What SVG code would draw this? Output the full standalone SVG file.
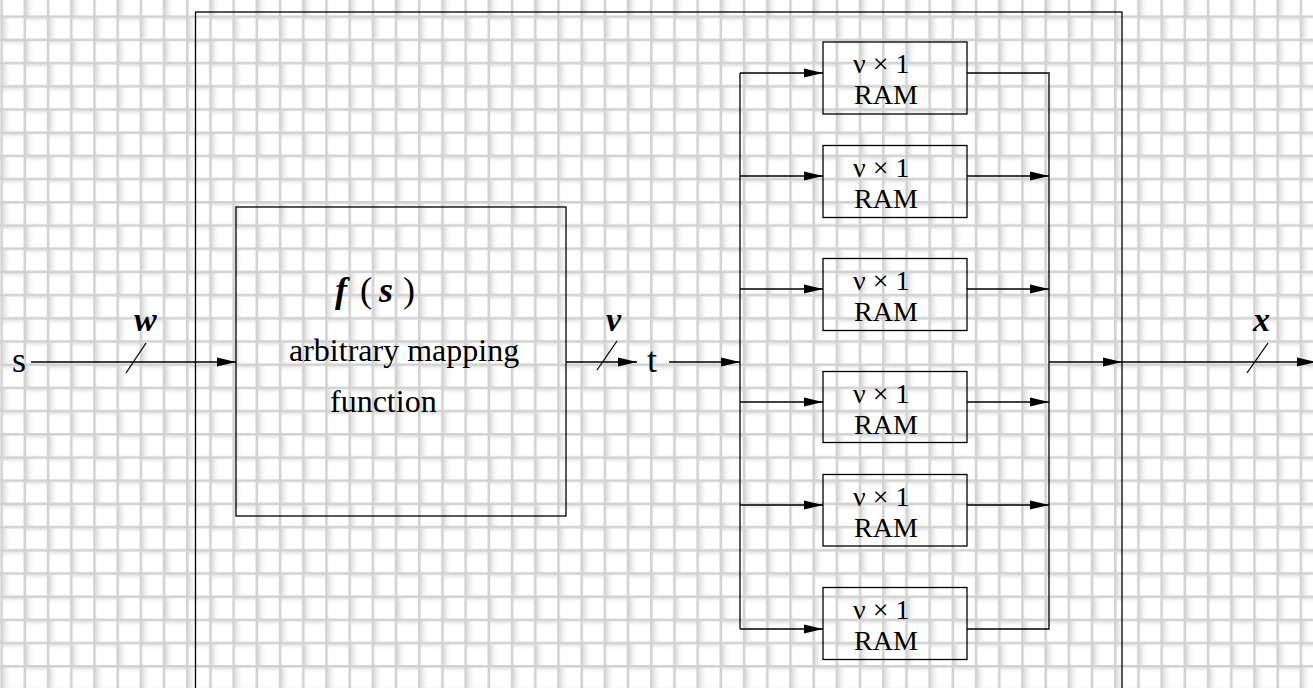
<svg xmlns="http://www.w3.org/2000/svg" width="1313" height="688" viewBox="0 0 1313 688">
<style>
.ln{fill:none;stroke:#000;stroke-width:1.3}
.bx{fill:none;stroke:#000;stroke-width:1.3}
.tx{font-family:"Liberation Serif","Times New Roman",serif;fill:#000}
.bi{font-weight:bold;font-style:italic}
</style>
<defs>
<marker id="ah" markerUnits="userSpaceOnUse" markerWidth="20" markerHeight="12" viewBox="0 0 20 12" refX="19" refY="6" orient="auto">
<path d="M0,1.5 L19,6 L0,10.5 Z" fill="#000"/>
</marker>
<linearGradient id="shL" x1="0" y1="0" x2="1" y2="0">
<stop offset="0" stop-color="#dcdcdc"/>
<stop offset="1" stop-color="#ffffff" stop-opacity="0"/>
</linearGradient>
<linearGradient id="shT" x1="0" y1="0" x2="0" y2="1">
<stop offset="0" stop-color="#e2e2e2"/>
<stop offset="1" stop-color="#ffffff" stop-opacity="0"/>
</linearGradient>
<pattern id="grid" patternUnits="userSpaceOnUse" x="0.4" y="15.4" width="46.4" height="46.4">
<rect width="46.4" height="46.4" fill="#ffffff"/>
<rect x="2.6" y="2.6" width="9" height="20.6" fill="url(#shL)"/>
<rect x="25.8" y="25.8" width="9" height="20.6" fill="url(#shL)"/>
<rect x="25.8" y="2.6" width="20.6" height="6" fill="url(#shT)"/>
<rect x="2.6" y="25.8" width="20.6" height="6" fill="url(#shT)"/>
<rect x="0" y="0" width="2.6" height="46.4" fill="#d2d2d2"/>
<rect x="23.2" y="0" width="2.6" height="46.4" fill="#d2d2d2"/>
<rect x="0" y="0" width="46.4" height="2.6" fill="#d2d2d2"/>
<rect x="0" y="23.2" width="46.4" height="2.6" fill="#d2d2d2"/>
</pattern>
</defs>
<rect id="background" x="0" y="0" width="1313" height="688" fill="url(#grid)"/>
<g id="outer-box"><rect class="bx" x="195.5" y="12" width="926.5" height="700"/></g>
<g id="input-s"><text class="tx" x="12" y="372" font-size="36">s</text></g>
<g id="label-w"><text class="tx bi" x="134" y="331" font-size="34">w</text></g>
<g id="mapping">
<rect class="bx" x="236" y="207" width="330" height="309"/>
<text class="tx bi" x="335" y="302" font-size="36">f</text>
<text class="tx" x="360" y="302" font-size="36">(</text>
<text class="tx bi" x="379" y="302" font-size="36">s</text>
<text class="tx" x="403" y="302" font-size="36">)</text>
<text class="tx" x="289" y="361" font-size="32">arbitrary mapping</text>
<text class="tx" x="330" y="412" font-size="32">function</text>
</g>
<g id="label-v"><text class="tx bi" x="606" y="331" font-size="34">v</text></g>
<g id="signal-t"><text class="tx" x="647" y="372" font-size="36">t</text></g>
<g id="ram1"><rect class="bx" x="823" y="42" width="144" height="72"/><text class="tx" x="853" y="73" font-size="28">ν × 1</text><text class="tx" x="854" y="104" font-size="28">RAM</text></g>
<g id="ram2"><rect class="bx" x="823" y="145.5" width="144" height="72"/><text class="tx" x="853" y="177" font-size="28">ν × 1</text><text class="tx" x="854" y="208" font-size="28">RAM</text></g>
<g id="ram3"><rect class="bx" x="823" y="258.5" width="144" height="72"/><text class="tx" x="853" y="289.5" font-size="28">ν × 1</text><text class="tx" x="854" y="320.5" font-size="28">RAM</text></g>
<g id="ram4"><rect class="bx" x="823" y="371.5" width="144" height="71"/><text class="tx" x="853" y="402.5" font-size="28">ν × 1</text><text class="tx" x="854" y="433.5" font-size="28">RAM</text></g>
<g id="ram5"><rect class="bx" x="823" y="474.5" width="144" height="71.5"/><text class="tx" x="853" y="505.5" font-size="28">ν × 1</text><text class="tx" x="854" y="536.5" font-size="28">RAM</text></g>
<g id="ram6"><rect class="bx" x="823" y="587.5" width="144" height="72"/><text class="tx" x="853" y="619" font-size="28">ν × 1</text><text class="tx" x="854" y="650" font-size="28">RAM</text></g>
<g id="label-x"><text class="tx bi" x="1253" y="331" font-size="34">x</text></g>
<g id="connectors">
<path class="ln" d="M31,362 H236" marker-end="url(#ah)"/>
<path class="ln" d="M126,373 L146,343"/>
<path class="ln" d="M566,362 H637" marker-end="url(#ah)"/>
<path class="ln" d="M597,370 L617,341"/>
<path class="ln" d="M669,362 H740" marker-end="url(#ah)"/>
<path class="ln" d="M740,73 V629"/>
<path class="ln" d="M740,73 H823" marker-end="url(#ah)"/>
<path class="ln" d="M740,176 H823" marker-end="url(#ah)"/>
<path class="ln" d="M740,289 H823" marker-end="url(#ah)"/>
<path class="ln" d="M740,402 H823" marker-end="url(#ah)"/>
<path class="ln" d="M740,505 H823" marker-end="url(#ah)"/>
<path class="ln" d="M740,629 H823" marker-end="url(#ah)"/>
<path class="ln" d="M967,73 H1049 V629 H967"/>
<path class="ln" d="M967,176 H1049" marker-end="url(#ah)"/>
<path class="ln" d="M967,289 H1049" marker-end="url(#ah)"/>
<path class="ln" d="M967,402 H1049" marker-end="url(#ah)"/>
<path class="ln" d="M967,505 H1049" marker-end="url(#ah)"/>
<path class="ln" d="M1049,362 H1122" marker-end="url(#ah)"/>
<path class="ln" d="M1122,362 H1316" marker-end="url(#ah)"/>
<path class="ln" d="M1247,373 L1268,343"/>
</g>
</svg>
